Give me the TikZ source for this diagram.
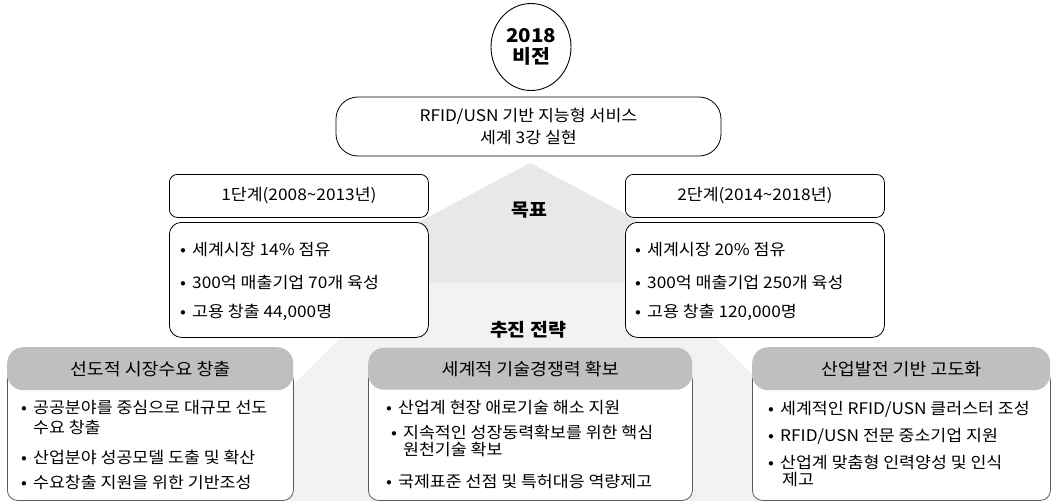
\documentclass[tikz,border=0pt]{standalone}
\usepackage{fontspec}
\setmainfont{Noto Sans CJK KR}[FakeStretch=1.08]
\usetikzlibrary{shapes.geometric}
\definecolor{tri}{HTML}{E8E8E8}
\definecolor{trap}{HTML}{F2F2F2}
\definecolor{hdr}{HTML}{BFBFBF}
\definecolor{bord}{HTML}{5A5A5A}
\newcommand\bul{\makebox[12pt][l]{•}}
\begin{document}
\begin{tikzpicture}[x=1pt,y=-1pt,
  txt/.style={font=\fontsize{16}{19}\selectfont, inner sep=0pt, anchor=west},
  ctr/.style={font=\fontsize{16}{22}\selectfont, inner sep=0pt, align=center},
  topbox/.style={draw=black, fill=white, line width=0.8pt, rounded corners=22pt, inner sep=0pt},
  stagebox/.style={draw=black, fill=white, line width=0.8pt, rounded corners=8pt, inner sep=0pt, anchor=north west, font=\fontsize{16}{19}\selectfont},
  contentbox/.style={draw=black, fill=white, line width=0.8pt, rounded corners=12pt, inner sep=0pt, anchor=north west},
  bodybox/.style={draw=bord, fill=white, line width=0.8pt, rounded corners=10pt, inner sep=0pt, anchor=north west},
  hdrbox/.style={fill=hdr, rounded corners=16pt, inner sep=0pt, anchor=north west, font=\fontsize{17}{20}\selectfont},
  title/.style={font=\fontsize{18}{20}\selectfont\bfseries, inner sep=0pt}
]
\useasboundingbox (0,0) rectangle (1053,501);

% background shapes
\fill[trap] (395,283) -- (661,283) -- (879,501) -- (177,501) -- cycle;
\fill[tri] (530,163) -- (756,283) -- (304,283) -- cycle;

% vision ellipse
\node[draw=black, line width=0.9pt, fill=white, ellipse, minimum width=80, minimum height=87, inner sep=0pt, align=center, font=\fontsize{19}{21}\selectfont\bfseries] (vis) at (531,47) {2018\\비전};

% vision box
\node[topbox, minimum width=385, minimum height=59] (vision) at (528.5,126.5) {};
\node[ctr] (visiontxt) at (vision.center) {RFID/USN 기반 지능형 서비스\\세계 3강 실현};

% stage boxes
\node[stagebox, minimum width=259, minimum height=43] (s1h) at (169,174) {1단계(2008\textasciitilde2013년)};
\node[contentbox, minimum width=259, minimum height=115] (s1c) at (169,222) {};
\node[stagebox, minimum width=259, minimum height=43] (s2h) at (625,174) {2단계(2014\textasciitilde2018년)};
\node[contentbox, minimum width=259, minimum height=115] (s2c) at (625,222) {};

\node[txt] (s1a) at (180,250) {\bul 세계시장 14\% 점유};
\node[txt] (s1b) at (180,282) {\bul 300억 매출기업 70개 육성};
\node[txt] (s1d) at (180,312) {\bul 고용 창출 44,000명};
\node[txt] (s2a) at (635,250) {\bul 세계시장 20\% 점유};
\node[txt] (s2b) at (635,282) {\bul 300억 매출기업 250개 육성};
\node[txt] (s2d) at (635,312) {\bul 고용 창출 120,000명};

% titles
\node[title] (goal) at (529,210) {목표};
\node[title] (strat) at (528,330) {추진 전략};

% bottom boxes
\node[bodybox, minimum width=286, minimum height=130] (b1body) at (7,370) {};
\node[hdrbox, minimum width=286, minimum height=43] (b1h) at (7,347) {선도적 시장수요 창출};
\node[bodybox, minimum width=324, minimum height=130] (b2body) at (368,370) {};
\node[hdrbox, minimum width=324, minimum height=42] (b2h) at (368,347.5) {세계적 기술경쟁력 확보};
\node[bodybox, minimum width=298, minimum height=130] (b3body) at (752,370) {};
\node[hdrbox, minimum width=298, minimum height=43] (b3h) at (752,347) {산업발전 기반 고도화};

\node[txt] (b1a) at (21,408) {\bul 공공분야를 중심으로 대규모 선도};
\node[txt] (b1a2) at (33,427) {수요 창출};
\node[txt] (b1b) at (21,457) {\bul 산업분야 성공모델 도출 및 확산};
\node[txt] (b1c) at (21,482) {\bul 수요창출 지원을 위한 기반조성};

\node[txt] (b2a) at (386,408) {\bul 산업계 현장 애로기술 해소 지원};
\node[txt] (b2b) at (391,432) {\bul 지속적인 성장동력확보를 위한 핵심};
\node[txt] (b2b2) at (403,449) {원천기술 확보};
\node[txt] (b2c) at (386,482) {\bul 국제표준 선점 및 특허대응 역량제고};

\node[txt] (b3a) at (768,409) {\bul 세계적인 RFID/USN 클러스터 조성};
\node[txt] (b3b) at (768,436) {\bul RFID/USN 전문 중소기업 지원};
\node[txt] (b3c) at (768,462) {\bul 산업계 맞춤형 인력양성 및 인식};
\node[txt] (b3c2) at (782,480) {제고};
\end{tikzpicture}
\end{document}
